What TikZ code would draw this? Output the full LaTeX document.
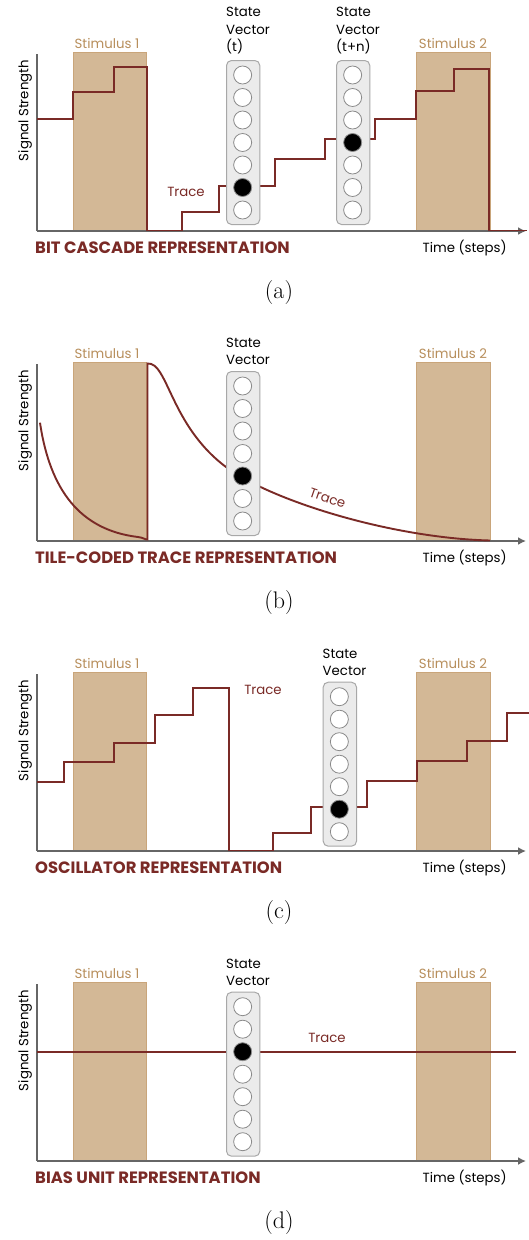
\documentclass[tikz,border=0pt]{standalone}
\usepackage{fontspec}
\newfontfamily\uifont{Poppins}
\usetikzlibrary{arrows.meta}
\definecolor{stimfill}{HTML}{D3B896}
\definecolor{stimedge}{HTML}{C9A57A}
\definecolor{stimtext}{HTML}{B88F5C}
\definecolor{tracecol}{HTML}{7A2A26}
\definecolor{axiscol}{HTML}{666666}
\definecolor{svfill}{HTML}{EBEBEB}
\definecolor{svedge}{HTML}{A8A8A8}
\definecolor{circedge}{HTML}{8A8A8A}
\tikzset{
  stim/.style={draw=stimedge, fill=stimfill, line width=0.9pt},
  axisline/.style={draw=axiscol, line width=2.2pt, -{Latex[length=8pt,width=8pt]}},
  yaxisline/.style={draw=axiscol, line width=2.2pt},
  traceline/.style={draw=tracecol, line width=1.9pt, line join=miter},
  lbl/.style={font=\uifont\fontsize{13.3}{17.5}\selectfont, inner sep=0pt, text=black},
  stimlbl/.style={font=\uifont\fontsize{13.3}{15}\selectfont, inner sep=0pt, text=stimtext},
  tracelbl/.style={font=\uifont\fontsize{13.3}{15}\selectfont, inner sep=0pt, text=tracecol},
  titlelbl/.style={font=\uifont\bfseries\fontsize{16.4}{18}\selectfont, inner sep=0pt, text=tracecol, anchor=west},
  sublbl/.style={font=\fontsize{24}{26}\selectfont, inner sep=0pt},
  svbox/.style={draw=svedge, fill=svfill, line width=1pt, rounded corners=5pt,
     minimum width=33.3pt, minimum height=164pt, inner sep=0pt, anchor=north west},
  svcirc/.style={circle, draw=circedge, line width=0.8pt, minimum size=18pt, inner sep=0pt},
}
\newcommand\panelbase[4]{% prefix, y offset, title, sublabel
  \begin{scope}[shift={(0,#2)}]
    \path[stim] (73.3,52.8) rectangle (146.7,231);
    \path[stim] (416,52.8) rectangle (490,231);
    \node[stimlbl] (#1sl1) at (107,43.3) {Stimulus 1};
    \node[stimlbl] (#1sl2) at (453,43.3) {Stimulus 2};
    \coordinate (#1ytop) at (37,54);
    \coordinate (#1orig) at (37,231);
    \coordinate (#1xend) at (526,231);
    \draw[yaxisline] (#1ytop) -- (#1orig);
    \draw[axisline] (#1orig) -- (#1xend);
    \node[lbl, rotate=90] (#1ylab) at (25,110.5) {Signal Strength};
    \node[lbl, anchor=west] (#1xlab) at (422.5,248.3) {Time (steps)};
    \node[titlelbl] (#1title) at (35,247.5) {#3};
    \node[sublbl] (#1sub) at (279,292.5) {#4};
  \end{scope}
}
\newcommand\statevec[4]{% name, x left, y top, filled index
  \node[svbox] (#1) at (#2,#3) {};
  \foreach \i in {1,...,7}{%
    \ifnum\i=#4\relax\def\cfill{black}\else\def\cfill{white}\fi
    \node[svcirc, fill=\cfill] (#1c\i) at ({#2+16.65},{#3+15+22.5*(\i-1)}) {};
  }
}
\begin{document}
\begin{tikzpicture}[x=1pt, y=-1pt]
\useasboundingbox[fill=white] (0,0) rectangle (529,1240);

% ---------------- (a)
\panelbase{a}{0}{BIT CASCADE REPRESENTATION}{(a)}
\draw[traceline] (37,119.3) -- (73.3,119.3) -- (73.3,92.3) -- (114.3,92.3) -- (114.3,67)
  -- (147.3,67) -- (147.3,230.5) -- (181.7,230.5) -- (181.7,212) -- (219.3,212)
  -- (219.3,185.7) -- (275,185.7) -- (275,159) -- (325,159) -- (325,139) -- (375,139)
  -- (375,119) -- (416,119) -- (416,91) -- (454,91) -- (454,69) -- (488.7,69)
  -- (488.7,230.5) -- (527,230.5);
\statevec{sva}{226}{60}{6}
\statevec{svan}{336}{60}{4}
\node[lbl, anchor=north west, align=left] (svalab) at (226,7) {State\\Vector\\(t)};
\node[lbl, anchor=north west, align=left] (svanlab) at (336,7) {State\\Vector\\(t+n)};
\node[tracelbl] (atrace) at (186,192) {Trace};

% ---------------- (b)
\panelbase{b}{310}{TILE-CODED TRACE REPRESENTATION}{(b)}
\draw[traceline] (40,422.7) .. controls (50,490) and (80,530) .. (138,537)
  .. controls (143,537.5) and (146,540) .. (147.5,539.5) -- (147.5,363.5)
  .. controls (168,362) and (170,425) .. (226,467)
  .. controls (270,500) and (390,538) .. (490,540.5);
\statevec{svb}{226}{371}{5}
\node[lbl, anchor=north west, align=left] (svblab) at (226,337.5) {State\\Vector};
\node[tracelbl, rotate=-19] (btrace) at (327.5,498) {Trace};

% ---------------- (c)
\panelbase{c}{620}{OSCILLATOR REPRESENTATION}{(c)}
\draw[traceline] (37,782.3) -- (64,782.3) -- (64,762.3) -- (114.3,762.3) -- (114.3,742.7)
  -- (155,742.7) -- (155,715) -- (193.3,715) -- (193.3,687.7) -- (229.3,687.7)
  -- (229.3,850.5) -- (273.3,850.5) -- (273.3,833.3) -- (310.7,833.3) -- (310.7,807.3)
  -- (366.7,807.3) -- (366.7,781) -- (416.7,781) -- (416.7,760.7) -- (466.7,760.7)
  -- (466.7,741) -- (507.3,741) -- (507.3,713.3) -- (529,713.3);
\statevec{svc}{322.7}{681.7}{6}
\node[lbl, anchor=north west, align=left] (svclab) at (322.5,648.5) {State\\Vector};
\node[tracelbl] (ctrace) at (263,690) {Trace};

% ---------------- (d)
\panelbase{d}{930}{BIAS UNIT REPRESENTATION}{(d)}
\coordinate (dtrs) at (37,1051.7);
\coordinate (dtre) at (516,1051.7);
\draw[traceline] (dtrs) -- (dtre);
\statevec{svd}{226}{991.7}{3}
\node[lbl, anchor=north west, align=left] (svdlab) at (226,958.5) {State\\Vector};
\node[tracelbl] (dtrace) at (327,1038.3) {Trace};
\end{tikzpicture}
\end{document}
